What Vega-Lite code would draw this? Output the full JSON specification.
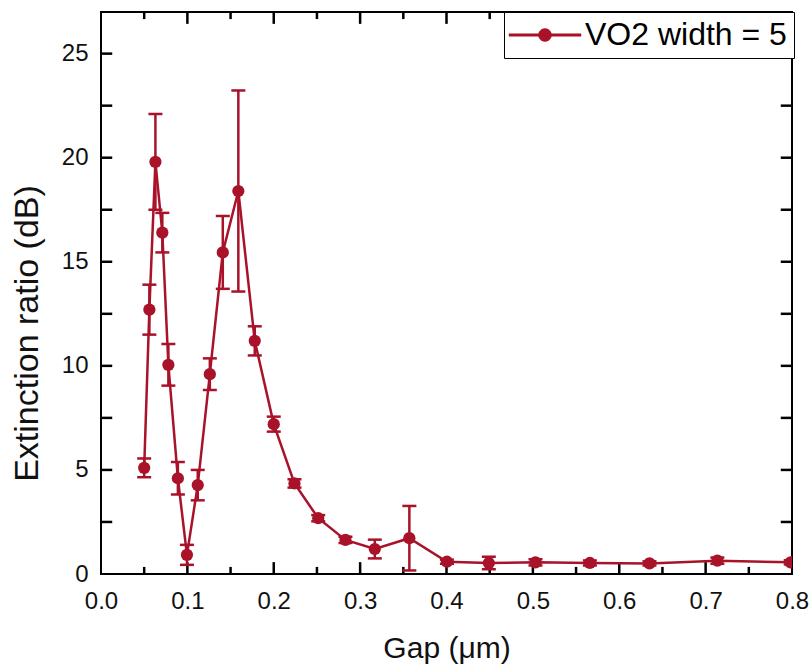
{
  "$schema": "https://vega.github.io/schema/vega-lite/v6.json",
  "width": 691,
  "height": 562,
  "autosize": {"type": "none"},
  "padding": {"left": 101, "top": 12, "right": 20, "bottom": 96},
  "background": "white",
  "config": {
    "view": {"stroke": "#000000", "strokeWidth": 2},
    "font": "Liberation Sans",
    "axis": {"grid": false, "domain": false, "ticks": false, "labelFont": "Liberation Sans", "labelColor": "#111111", "labelFontSize": 24, "titleFont": "Liberation Sans", "titleColor": "#111111", "titleFontWeight": "normal", "labelFlush": false, "labelOverlap": false}
  },
  "datasets": {
    "measured": [
      {"gap": 0.050, "er": 5.1, "err": 0.45, "series": "VO2 width = 5"},
      {"gap": 0.056, "er": 12.7, "err": 1.2, "series": "VO2 width = 5"},
      {"gap": 0.063, "er": 19.8, "err": 2.3, "series": "VO2 width = 5"},
      {"gap": 0.071, "er": 16.4, "err": 0.95, "series": "VO2 width = 5"},
      {"gap": 0.078, "er": 10.05, "err": 1.0, "series": "VO2 width = 5"},
      {"gap": 0.089, "er": 4.6, "err": 0.78, "series": "VO2 width = 5"},
      {"gap": 0.0995, "er": 0.92, "err": 0.48, "series": "VO2 width = 5"},
      {"gap": 0.112, "er": 4.27, "err": 0.73, "series": "VO2 width = 5"},
      {"gap": 0.126, "er": 9.6, "err": 0.76, "series": "VO2 width = 5"},
      {"gap": 0.141, "er": 15.45, "err": 1.75, "series": "VO2 width = 5"},
      {"gap": 0.159, "er": 18.4, "err": 4.83, "series": "VO2 width = 5"},
      {"gap": 0.178, "er": 11.2, "err": 0.7, "series": "VO2 width = 5"},
      {"gap": 0.200, "er": 7.2, "err": 0.36, "series": "VO2 width = 5"},
      {"gap": 0.224, "er": 4.35, "err": 0.2, "series": "VO2 width = 5"},
      {"gap": 0.2515, "er": 2.68, "err": 0.15, "series": "VO2 width = 5"},
      {"gap": 0.283, "er": 1.64, "err": 0.15, "series": "VO2 width = 5"},
      {"gap": 0.317, "er": 1.2, "err": 0.45, "series": "VO2 width = 5"},
      {"gap": 0.357, "er": 1.72, "err": 1.55, "series": "VO2 width = 5"},
      {"gap": 0.4005, "er": 0.59, "err": 0.1, "series": "VO2 width = 5"},
      {"gap": 0.449, "er": 0.53, "err": 0.3, "series": "VO2 width = 5"},
      {"gap": 0.503, "er": 0.56, "err": 0.15, "series": "VO2 width = 5"},
      {"gap": 0.566, "er": 0.53, "err": 0.12, "series": "VO2 width = 5"},
      {"gap": 0.635, "er": 0.51, "err": 0.1, "series": "VO2 width = 5"},
      {"gap": 0.7136, "er": 0.64, "err": 0.15, "series": "VO2 width = 5"},
      {"gap": 0.7985, "er": 0.56, "err": 0.1, "series": "VO2 width = 5"}
    ],
    "xMajorTicks": [{"v": 0.1}, {"v": 0.2}, {"v": 0.3}, {"v": 0.4}, {"v": 0.5}, {"v": 0.6}, {"v": 0.7}],
    "xMinorTicks": [{"v": 0.05}, {"v": 0.15}, {"v": 0.25}, {"v": 0.35}, {"v": 0.45}, {"v": 0.55}, {"v": 0.65}, {"v": 0.75}],
    "yTicks": [{"v": 2.5}, {"v": 5}, {"v": 7.5}, {"v": 10}, {"v": 12.5}, {"v": 15}, {"v": 17.5}, {"v": 20}, {"v": 22.5}, {"v": 25}]
  },
  "resolve": {"axis": {"x": "independent", "y": "independent"}, "scale": {"x": "shared", "y": "shared"}},
  "layer": [
    {
      "data": {"name": "xMajorTicks"},
      "mark": {"type": "rule", "color": "#000000", "strokeWidth": 2.5, "opacity": 1},
      "encoding": {
        "x": {"field": "v", "type": "quantitative", "scale": {"domain": [0, 0.8], "nice": false, "zero": false}, "axis": null},
        "y": {"datum": 0, "type": "quantitative", "scale": {"domain": [0, 27], "nice": false, "zero": false}, "axis": null},
        "y2": {"datum": 0.57}
      }
    },
    {
      "data": {"name": "xMajorTicks"},
      "mark": {"type": "rule", "color": "#000000", "strokeWidth": 2.5, "opacity": 1},
      "encoding": {
        "x": {"field": "v", "type": "quantitative", "axis": null},
        "y": {"datum": 27, "type": "quantitative", "axis": null},
        "y2": {"datum": 26.43}
      }
    },
    {
      "data": {"name": "xMinorTicks"},
      "mark": {"type": "rule", "color": "#000000", "strokeWidth": 2.5, "opacity": 1},
      "encoding": {
        "x": {"field": "v", "type": "quantitative", "axis": null},
        "y": {"datum": 0, "type": "quantitative", "axis": null},
        "y2": {"datum": 0.34}
      }
    },
    {
      "data": {"name": "xMinorTicks"},
      "mark": {"type": "rule", "color": "#000000", "strokeWidth": 2.5, "opacity": 1},
      "encoding": {
        "x": {"field": "v", "type": "quantitative", "axis": null},
        "y": {"datum": 27, "type": "quantitative", "axis": null},
        "y2": {"datum": 26.66}
      }
    },
    {
      "data": {"name": "yTicks"},
      "mark": {"type": "rule", "color": "#000000", "strokeWidth": 2.5, "opacity": 1},
      "encoding": {
        "x": {"datum": 0, "type": "quantitative", "axis": null},
        "x2": {"datum": 0.013},
        "y": {"field": "v", "type": "quantitative", "axis": null}
      }
    },
    {
      "data": {"name": "yTicks"},
      "mark": {"type": "rule", "color": "#000000", "strokeWidth": 2.5, "opacity": 1},
      "encoding": {
        "x": {"datum": 0.8, "type": "quantitative", "axis": null},
        "x2": {"datum": 0.787},
        "y": {"field": "v", "type": "quantitative", "axis": null}
      }
    },
    {
      "data": {"name": "measured"},
      "mark": {"type": "errorbar", "color": "#A8132A", "opacity": 1, "clip": true, "ticks": {"size": 14, "thickness": 2.5, "color": "#A8132A", "opacity": 1}, "rule": {"strokeWidth": 2.5, "color": "#A8132A", "opacity": 1}},
      "encoding": {
        "x": {"field": "gap", "type": "quantitative", "axis": null},
        "y": {"field": "er", "type": "quantitative", "axis": null},
        "yError": {"field": "err"}
      }
    },
    {
      "data": {"name": "measured"},
      "mark": {"type": "line", "color": "#A8132A", "strokeWidth": 2.5, "clip": true},
      "encoding": {
        "x": {"field": "gap", "type": "quantitative",
          "axis": {"orient": "bottom", "title": "Gap (μm)", "titleFontSize": 30, "titleBaseline": "alphabetic", "titleY": 83,
            "values": [0, 0.1, 0.2, 0.3, 0.4, 0.5, 0.6, 0.7, 0.8], "format": ".1f", "labelPadding": 15}},
        "y": {"field": "er", "type": "quantitative",
          "axis": {"orient": "left", "title": "Extinction ratio (dB)", "titleFontSize": 34, "titleAngle": -90, "titleAlign": "center", "titleBaseline": "alphabetic", "titleX": -64, "titleY": 321,
            "values": [0, 5, 10, 15, 20, 25], "format": "d", "labelPadding": 13}}
      }
    },
    {
      "data": {"name": "measured"},
      "mark": {"type": "point", "filled": true, "size": 150, "opacity": 1, "clip": true},
      "encoding": {
        "x": {"field": "gap", "type": "quantitative", "axis": null},
        "y": {"field": "er", "type": "quantitative", "axis": null},
        "color": {"field": "series", "type": "nominal", "scale": {"range": ["#A8132A"]},
          "legend": {"title": null, "orient": "none", "legendX": 403, "legendY": 0,
            "strokeColor": "#000000", "fillColor": "#ffffff", "padding": 7,
            "labelFont": "Liberation Sans", "labelFontSize": 32, "labelColor": "#000000", "labelLimit": 400,
            "symbolType": "M-3.6,-0.12H3.6V0.12H-3.6ZM-0.65,0A0.65,0.65,0,1,1,0.65,0A0.65,0.65,0,1,1,-0.65,0Z",
            "symbolSize": 400, "symbolOffset": 18, "labelOffset": 24,
            "symbolFillColor": "#A8132A", "symbolStrokeColor": "#A8132A", "symbolStrokeWidth": 0.5,
            "encode": {"symbols": {"update": {"fill": {"value": "#A8132A"}, "opacity": {"value": 1}}},
                       "legend": {"update": {"strokeWidth": {"value": 1.5}}}}}}
      }
    }
  ]
}
